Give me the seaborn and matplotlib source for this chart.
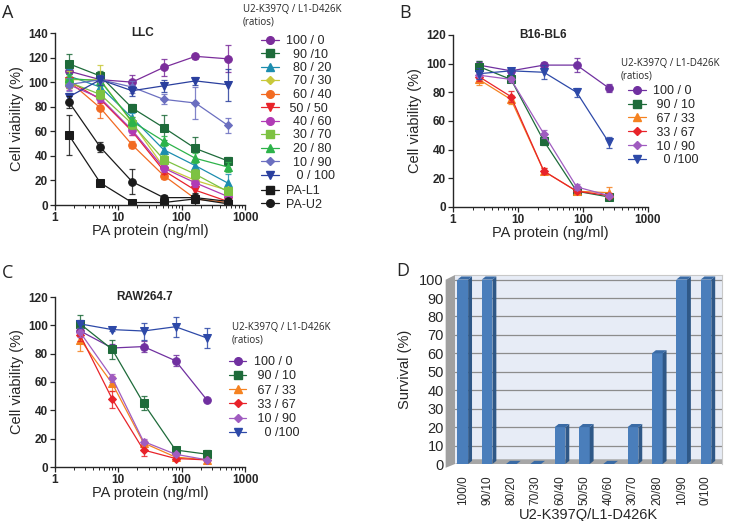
import numpy as np
import pandas as pd
import seaborn as sns
import matplotlib.pyplot as plt
from matplotlib.lines import Line2D
from matplotlib.patches import Polygon
from matplotlib.ticker import NullFormatter

sns.set_style('ticks')
plt.rcParams['font.family'] = ['Liberation Sans', 'DejaVu Sans']

# ---- Panel A: LLC ----
dose_a = [1.65, 5.2, 16.5, 52, 165, 530]
ratios_a = ['100 / 0', '  90 /10', '  80 / 20', '  70 / 30', '  60 / 40', ' 50 / 50',
            '  40 / 60', '  30 / 70', '  20 / 80', '  10 / 90', '   0 / 100', 'PA-L1', 'PA-U2']
viab_a = [
    [109, 102, 100, 112, 121, 119],
    [115, 105, 79, 63, 46, 36],
    [105, 96, 71, 45, 32, 18],
    [102, 102, 67, 31, 20, 12],
    [101, 79, 49, 24, 5, 2],
    [101, 86, 60, 28, 12, 3],
    [98, 87, 61, 30, 18, 7],
    [100, 90, 66, 37, 25, 11],
    [103, 101, 68, 52, 38, 31],
    [98, 102, 96, 86, 83, 65],
    [88, 102, 93, 97, 101, 98],
    [57, 18, 2, 2, 5, 1],
    [84, 47, 19, 6, 6, 3],
]
err_a = [
    [5, 3, 6, 7, 2, 11],
    [8, 4, 3, 10, 9, 3],
    [6, 5, 4, 5, 5, 7],
    [7, 12, 5, 5, 4, 3],
    [3, 8, 3, 3, 2, 2],
    [3, 3, 3, 3, 4, 2],
    [4, 3, 4, 3, 3, 3],
    [5, 4, 4, 4, 4, 3],
    [4, 4, 4, 4, 4, 4],
    [5, 4, 5, 4, 13, 6],
    [3, 4, 4, 5, 3, 13],
    [16, 2, 2, 3, 5, 2],
    [5, 4, 10, 2, 3, 2],
]
colors_a = ['#7B2D9B', '#1E6B3A', '#1C8DAF', '#C9C93A', '#F26B22', '#E8232A', '#B03BB5',
            '#7DC242', '#2DB34A', '#6B6FC0', '#2A3F9E', '#1A1A1A', '#1A1A1A']
markers_a = ['o', 's', '^', 'D', 'o', 'v', 'o', 's', '^', 'D', 'v', 's', 'o']

# ---- Panel B: B16-BL6 ----
dose_b = [2.5, 7.8, 25, 80, 250]
ratios_bc = ['100 / 0', ' 90 / 10', ' 67 / 33', ' 33 / 67', ' 10 / 90', '   0 /100']
viab_b = [
    [99, 95, 99, 99, 83],
    [98, 89, 46, 11, 7],
    [89, 75, 25, 11, 10],
    [91, 77, 25, 11, 8],
    [92, 89, 51, 14, 8],
    [93, 95, 94, 80, 45],
]
err_b = [
    [3, 2, 2, 5, 3],
    [4, 2, 3, 2, 1],
    [4, 3, 2, 1, 4],
    [3, 4, 2, 1, 2],
    [3, 2, 3, 2, 1],
    [4, 2, 5, 3, 4],
]

# ---- Panel C: RAW264.7 ----
dose_c = [2.5, 8, 25, 80, 254]
viab_c = [
    [96, 84, 85, 75, 47],
    [101, 83, 45, 12, 9],
    [90, 59, 17, 7, 5],
    [93, 48, 12, 6, 5],
    [95, 63, 18, 9, 5],
    [101, 97, 96, 99, 91],
]
err_c = [
    [3, 3, 4, 4, 1],
    [6, 7, 5, 2, 3],
    [8, 5, 2, 1, 1],
    [4, 6, 4, 1, 1],
    [3, 3, 2, 1, 1],
    [3, 1, 6, 7, 7],
]
colors_bc = ['#7030A0', '#1E6B3A', '#F58220', '#E8232A', '#A05CC0', '#2D49A8']
markers_bc = ['o', 's', '^', 'D', 'D', 'v']

# ---- Panel D: survival ----
groups_d = ['100/0', '90/10', '80/20', '70/30', '60/40', '50/50', '40/60', '30/70',
            '20/80', '10/90', '0/100']
survival_d = [100, 100, 0, 0, 20, 20, 0, 20, 60, 100, 100]

W, H = 735, 521
fig = plt.figure(figsize=(W / 100, H / 100), dpi=100)


def rect(x0, y0, x1, y1):
    return [x0 / W, 1 - y1 / H, (x1 - x0) / W, (y1 - y0) / H]


def curve_panel(ax, dose, viab, err, colors, markers, labels, ymax, title, title_x):
    for y, e, c, m, lab in zip(viab, err, colors, markers, labels):
        ax.errorbar(dose, y, yerr=e, fmt='none', ecolor=c, elinewidth=0.9,
                    capsize=2.2, capthick=0.9, alpha=0.85)
        ms = 6 if m == 's' else (4.5 if m == 'D' else 5.5)
        sns.lineplot(x=dose, y=y, color=c, marker=m, markersize=ms,
                     markeredgecolor=c, linewidth=0.9, ax=ax, estimator=None)
    ax.set_xscale('log')
    ax.set_xlim(1, 1000)
    ax.set_ylim(0, ymax)
    ax.set_xticks([1, 10, 100, 1000], labels=['1', '10', '100', '1000'])
    ax.xaxis.set_minor_formatter(NullFormatter())
    ax.set_yticks(range(0, ymax + 1, 20))
    ax.tick_params(axis='both', which='major', labelsize=8.5, length=3.5, width=0.9,
                   pad=1.5, direction='out')
    ax.tick_params(axis='x', which='minor', length=2, width=0.7)
    for lab in ax.get_xticklabels() + ax.get_yticklabels():
        lab.set_fontweight('bold')
    sns.despine(ax=ax)
    for s in ['left', 'bottom']:
        ax.spines[s].set_linewidth(1.0)
    ax.set_xlabel('PA protein (ng/ml)', fontsize=10.5, labelpad=0)
    ax.set_ylabel('Cell viability (%)', fontsize=10.5, labelpad=3)
    ax.text(title_x, 1.0, title, transform=ax.transAxes, ha='center', va='center',
            fontsize=8.5, fontweight='bold')


def handles(colors, markers, labels):
    hs = []
    for c, m in zip(colors, markers):
        ms = 6 if m == 's' else (4.5 if m == 'D' else 5.5)
        hs.append(Line2D([0], [0], color=c, marker=m, markersize=ms, linewidth=0.9))
    return hs


# Panel A
axa = fig.add_axes(rect(55, 33, 245, 205))
curve_panel(axa, dose_a, viab_a, err_a, colors_a, markers_a, ratios_a, 140, 'LLC', 0.46)
ha = handles(colors_a, markers_a, ratios_a)
leg1 = axa.legend(ha[:11], ratios_a[:11], loc='upper left', bbox_to_anchor=(261 / W, 1 - 35 / H),
                  bbox_transform=fig.transFigure, frameon=False, fontsize=9, labelspacing=0.12,
                  handlelength=1.4, handletextpad=0.6, borderpad=0, borderaxespad=0)
axa.add_artist(leg1)
axa.legend(ha[11:], ratios_a[11:], loc='upper left', bbox_to_anchor=(261 / W, 1 - 185 / H),
           bbox_transform=fig.transFigure, frameon=False, fontsize=9, labelspacing=0.12,
           handlelength=1.4, handletextpad=0.6, borderpad=0, borderaxespad=0)
fig.text(243 / W, 1 - 16 / H, 'U2-K397Q / L1-D426K\n(ratios)', fontsize=7,
         family=['Open Sans', 'DejaVu Sans'], va='center', ha='left', linespacing=1.25)

# Panel B
axb = fig.add_axes(rect(453, 35, 648, 207))
curve_panel(axb, dose_b, viab_b, err_b, colors_bc, markers_bc, ratios_bc, 120, 'B16-BL6', 0.46)
axb.legend(handles(colors_bc, markers_bc, ratios_bc), ratios_bc, loc='upper left',
           bbox_to_anchor=(628 / W, 1 - 85 / H), bbox_transform=fig.transFigure, frameon=False,
           fontsize=9, labelspacing=0.15, handlelength=1.4, handletextpad=0.6, borderpad=0,
           borderaxespad=0)
fig.text(621 / W, 1 - 70 / H, 'U2-K397Q / L1-D426K\n(ratios)', fontsize=7,
         family=['Open Sans', 'DejaVu Sans'], va='center', ha='left', linespacing=1.25)

# Panel C
axc = fig.add_axes(rect(55, 297, 245, 467))
curve_panel(axc, dose_c, viab_c, err_c, colors_bc, markers_bc, ratios_bc, 120, 'RAW264.7', 0.47)
axc.legend(handles(colors_bc, markers_bc, ratios_bc), ratios_bc, loc='upper left',
           bbox_to_anchor=(229 / W, 1 - 356 / H), bbox_transform=fig.transFigure, frameon=False,
           fontsize=9, labelspacing=0.18, handlelength=1.4, handletextpad=0.6, borderpad=0,
           borderaxespad=0)
fig.text(232 / W, 1 - 334 / H, 'U2-K397Q / L1-D426K\n(ratios)', fontsize=7,
         family=['Open Sans', 'DejaVu Sans'], va='center', ha='left', linespacing=1.25)

# Panel D (pseudo-3D bar chart)
axd = fig.add_axes(rect(455, 275, 722, 464))
axd.set_facecolor('#E7ECF6')
df_d = pd.DataFrame({'group': groups_d, 'survival': survival_d})
sns.barplot(data=df_d, x='group', y='survival', color='#4A7EBB', saturation=1, width=0.44,
            edgecolor='none', ax=axd, zorder=3)
axd.set_xlim(-0.32, 10.66)
axd.set_ylim(0, 102.5)
axd.set_yticks(range(0, 101, 10))
axd.grid(axis='y', color='#8C8C8C', linewidth=0.9, zorder=0)
axd.set_axisbelow(True)
for s in ['left', 'bottom']:
    axd.spines[s].set_visible(False)
for s in ['top', 'right']:
    axd.spines[s].set_color('#C8C8C8')
    axd.spines[s].set_linewidth(0.8)
dx, dy = 0.16, 1.7
for p in axd.patches[:len(groups_d)]:
    x0, w, h = p.get_x(), p.get_width(), p.get_height()
    side = Polygon([(x0 + w, 0), (x0 + w + dx, dy), (x0 + w + dx, h + dy), (x0 + w, h)],
                   closed=True, facecolor='#2F5887', edgecolor='none', zorder=4)
    top = Polygon([(x0, h), (x0 + dx, h + dy), (x0 + w + dx, h + dy), (x0 + w, h)],
                  closed=True, facecolor='#3A6BA5', edgecolor='none', zorder=4)
    axd.add_patch(side)
    axd.add_patch(top)
floor = Polygon([(0, 0), (0.04, 0.025), (1, 0.025), (1.0, 0)], closed=True,
                transform=axd.transAxes, facecolor='#A6A6A6', edgecolor='none', zorder=2)
axd.add_patch(floor)
wall = Polygon([(-0.035, -0.02), (0.0, 0.0), (0.0, 1.0), (-0.035, 0.975)], closed=True,
               transform=axd.transAxes, facecolor='#A0A0A0', edgecolor='none', clip_on=False)
axd.add_patch(wall)
axd.tick_params(axis='y', length=0, labelsize=10.5, pad=8)
axd.tick_params(axis='x', length=0, labelsize=8.5, pad=8, rotation=90)
axd.set_xlabel('U2-K397Q/L1-D426K', fontsize=10.5, labelpad=2)
axd.set_ylabel('Survival (%)', fontsize=10.5, labelpad=5)

# Panel letters
for letter, x, y in [('A', 2, 4), ('B', 399, 4), ('C', 2, 264), ('D', 396, 262)]:
    fig.text(x / W, 1 - y / H, letter, fontsize=13, va='top', ha='left',
             family=['Open Sans', 'DejaVu Sans'])

fig.savefig('out.png', dpi=100)
